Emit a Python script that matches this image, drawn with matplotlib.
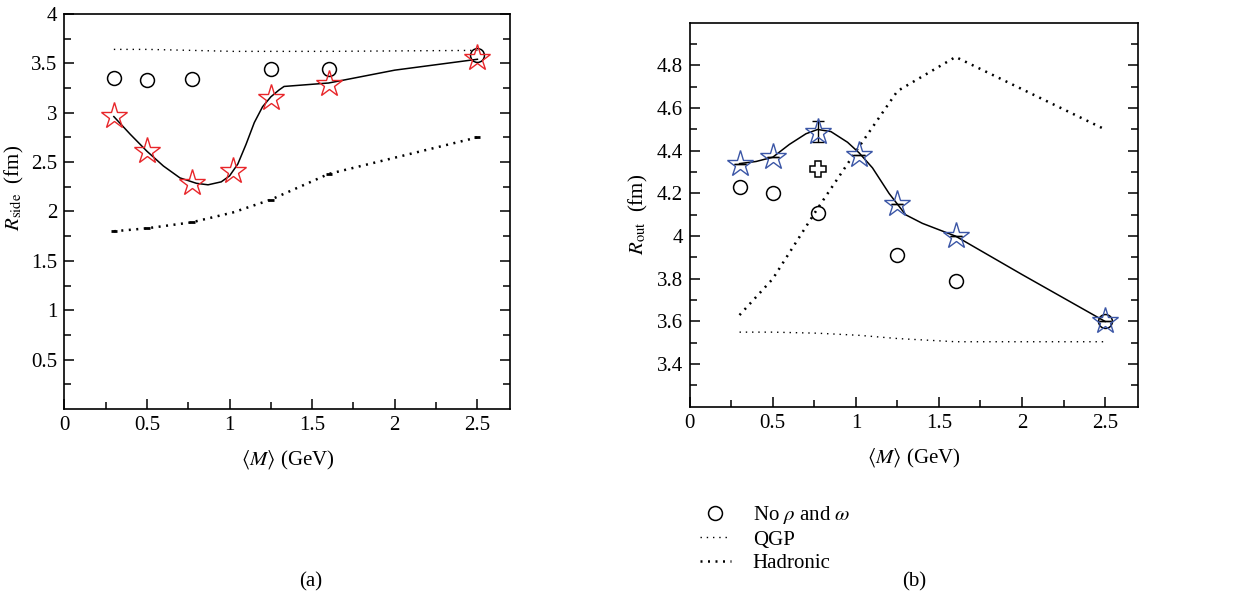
import matplotlib
matplotlib.use('Agg')
import matplotlib.pyplot as plt
from matplotlib.lines import Line2D

plt.rcParams['font.family'] = ['Liberation Serif', 'DejaVu Serif']
plt.rcParams['mathtext.fontset'] = 'stix'
plt.rcParams['font.size'] = 15

# mean pair mass (GeV)
mass = [0.3, 0.5, 0.77, 1.02, 1.25, 1.6, 2.5]
mass_no_rho = [0.3, 0.5, 0.77, 1.25, 1.6, 2.5]

# (a) R_side
side_full = [2.97, 2.61, 2.29, 2.41, 3.15, 3.29, 3.55]
side_no_rho = [3.35, 3.33, 3.34, 3.44, 3.44, 3.58]
side_qgp = [3.64, 3.64, 3.63, 3.62, 3.62, 3.62, 3.63]
side_had = [1.80, 1.83, 1.89, 1.99, 2.12, 2.38, 2.75]
side_fit_x = [0.3, 0.4, 0.5, 0.6, 0.7, 0.8, 0.87, 0.95, 1.0, 1.05, 1.1, 1.15,
              1.2, 1.25, 1.3, 1.33, 1.6, 2.0, 2.5]
side_fit_y = [2.96, 2.78, 2.61, 2.46, 2.34, 2.285, 2.27, 2.30, 2.36, 2.48, 2.68, 2.90,
              3.06, 3.16, 3.23, 3.265, 3.30, 3.43, 3.54]

# (b) R_out
out_full = [4.34, 4.37, 4.49, 4.38, 4.15, 4.00, 3.60]
out_err = [0, 0, 0.05, 0, 0, 0, 0]
out_no_rho = [4.23, 4.20, 4.11, 3.91, 3.79, 3.60]
out_cross = 4.315
out_qgp = [3.55, 3.55, 3.545, 3.535, 3.52, 3.505, 3.505]
out_had = [3.63, 3.80, 4.13, 4.42, 4.68, 4.84, 4.50]
out_fit_x = [0.3, 0.4, 0.5, 0.6, 0.7, 0.77, 0.85, 0.95, 1.02, 1.1, 1.2, 1.3,
             1.4, 1.6, 2.0, 2.5]
out_fit_y = [4.34, 4.35, 4.37, 4.43, 4.48, 4.50, 4.49, 4.44, 4.39, 4.32, 4.20, 4.10,
             4.06, 4.00, 3.82, 3.60]

x_ticks = [0, 0.5, 1, 1.5, 2, 2.5]
x_labels = ['0', '0.5', '1', '1.5', '2', '2.5']
side_ticks = [0.5, 1, 1.5, 2, 2.5, 3, 3.5, 4]
side_labels = ['0.5', '1', '1.5', '2', '2.5', '3', '3.5', '4']
out_ticks = [3.4, 3.6, 3.8, 4.0, 4.2, 4.4, 4.6, 4.8]
out_labels = ['3.4', '3.6', '3.8', '4', '4.2', '4.4', '4.6', '4.8']

red = '#e8262a'
blue = '#3b56a6'
qgp_style = dict(color='black', lw=1.0, linestyle=(0, (1, 3.5)))
had_style = dict(color='black', lw=1.8, linestyle=(0, (0.8, 2.2)))

fig = plt.figure(figsize=(12.36, 6.0), dpi=100)
ax1 = fig.add_axes([0.052, 0.318, 0.361, 0.659])
ax2 = fig.add_axes([0.558, 0.322, 0.363, 0.640])


def style_axes(ax, yticks, ylabels, ymin, ymax, yminor):
    ax.set_xlim(0, 2.7)
    ax.set_ylim(ymin, ymax)
    ax.set_xticks(x_ticks)
    ax.set_xticklabels(x_labels)
    ax.set_xticks([0.25, 0.75, 1.25, 1.75, 2.25], minor=True)
    ax.set_yticks(yticks)
    ax.set_yticklabels(ylabels)
    ax.set_yticks(yminor, minor=True)
    ax.tick_params(which='both', direction='in', left=True, right=True,
                   top=False, bottom=True, width=1.1, pad=5)
    ax.tick_params(which='major', length=7)
    ax.tick_params(which='minor', length=5)
    for sp in ax.spines.values():
        sp.set_linewidth(1.2)
    ax.set_xlabel(r'$\langle M\rangle$ (GeV)', labelpad=10)


# (a)
ax1.plot(mass, side_qgp, **qgp_style)
ax1.plot(mass, side_had, **had_style)
# little caps on the hadronic points
ax1.plot(mass_no_rho, [side_had[i] for i in (0, 1, 2, 4, 5, 6)], '_',
         color='black', ms=5, mew=2.0)
ax1.plot(side_fit_x, side_fit_y, color='black', lw=1.1)
ax1.plot(mass_no_rho, side_no_rho, 'o', ms=10, mfc='none', mec='black', mew=1.1)
ax1.plot(mass, side_full, '*', ms=20, mfc='none', mec=red, mew=1.0)
style_axes(ax1, side_ticks, side_labels, 0, 4,
           [0.25 + 0.5 * i for i in range(8)])
ax1.set_ylabel(r'$R_{\mathrm{side}}$  (fm)')
ax1.yaxis.set_label_coords(-0.085, 0.56)

# (b)
ax2.plot(mass, out_qgp, **qgp_style)
ax2.plot(mass, out_had, **had_style)
ax2.plot(out_fit_x, out_fit_y, color='black', lw=1.1)
ax2.plot(mass_no_rho, out_no_rho, 'o', ms=10, mfc='none', mec='black', mew=1.1)
ax2.errorbar(mass, out_full, yerr=out_err, fmt='none', ecolor='black',
             elinewidth=1.0, capsize=4)
ax2.plot(mass, out_full, '*', ms=20, mfc='none', mec=blue, mew=1.0)
ax2.plot([0.77], [out_cross], 'P', ms=11, mfc='white', mec='black', mew=1.1)
style_axes(ax2, out_ticks, out_labels, 3.2, 5.0,
           [3.3 + 0.2 * i for i in range(9)])
ax2.set_ylabel(r'$R_{\mathrm{out}}$  (fm)')
ax2.yaxis.set_label_coords(-0.089, 0.5)

handles = [
    Line2D([], [], marker='o', ls='none', ms=10, mfc='none', mec='black', mew=1.1),
    Line2D([], [], **qgp_style),
    Line2D([], [], **had_style),
]
names = [r'No $\rho$ and $\omega$', 'QGP', 'Hadronic']
fig.legend(handles, names, loc='upper left', bbox_to_anchor=(0.566, 0.160),
           frameon=False, handlelength=1.5, handletextpad=1.05,
           labelspacing=0.2, borderaxespad=0, borderpad=0, fontsize=15)

fig.text(0.251, 0.03, '(a)', ha='center', va='center', fontsize=15)
fig.text(0.740, 0.03, '(b)', ha='center', va='center', fontsize=15)

fig.savefig('out.png', dpi=100)
